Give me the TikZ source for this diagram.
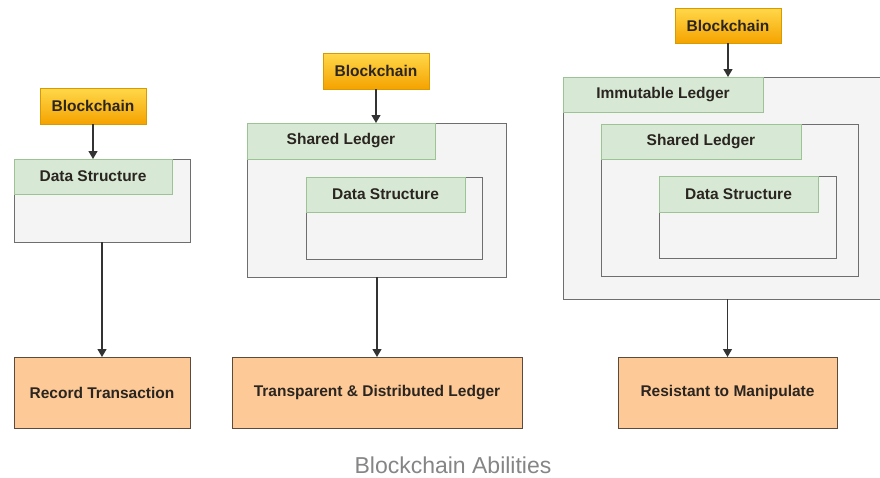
\documentclass[tikz,border=0pt]{standalone}
\usepackage{fontspec}
\setmainfont{Liberation Sans}
\usetikzlibrary{arrows.meta}
\definecolor{chainedge}{HTML}{D79B00}
\definecolor{chaintop}{HTML}{FFD84A}
\definecolor{chainbot}{HTML}{F5A300}
\definecolor{contedge}{HTML}{6E6E6E}
\definecolor{contfill}{HTML}{F4F4F4}
\definecolor{headedge}{HTML}{9CC394}
\definecolor{headfill}{HTML}{D7E9D4}
\definecolor{resedge}{HTML}{5C4A3A}
\definecolor{resfill}{HTML}{FDC996}
\definecolor{inkdark}{HTML}{2A2520}
\definecolor{capgray}{HTML}{858585}
\begin{document}
\begin{tikzpicture}[x=1pt,y=-1pt,
  every node/.style={inner sep=0pt, outer sep=0pt, anchor=north west, text=inkdark,
    font=\fontsize{15.5}{18}\selectfont\bfseries},
  chain/.style={draw=chainedge, line width=0.8pt, top color=chaintop, bottom color=chainbot},
  cont/.style={draw=contedge, fill=contfill, line width=1pt},
  head/.style={draw=headedge, fill=headfill, line width=0.8pt},
  result/.style={draw=resedge, fill=resfill, line width=1pt},
  link/.style={draw=black!80, line width=1.2pt, -{Triangle[length=8pt,width=9pt]}},
  caption/.style={anchor=center, text=capgray, font=\fontsize{23}{27}\selectfont}
]
\useasboundingbox[fill=white] (0,0) rectangle (880,477);

% Column 1: data structure
\node[chain, minimum width=106, minimum height=36] (bc1) at (40,88) {Blockchain};
\node[cont, minimum width=176, minimum height=83] (ds1) at (14,159) {};
\node[head, minimum width=158, minimum height=35] (ds1h) at (14,159) {Data Structure};
\node[result, minimum width=176, minimum height=71] (rt) at (14,357) {Record Transaction};
\draw[link] (bc1.south) -- (bc1.south |- ds1.north);
\draw[link] (ds1.south) -- (rt.north);

% Column 2: shared ledger
\node[chain, minimum width=106, minimum height=36] (bc2) at (323,53) {Blockchain};
\node[cont, minimum width=259, minimum height=154] (sl2) at (247,123) {};
\node[head, minimum width=188, minimum height=36] (sl2h) at (247,123) {Shared Ledger};
\node[cont, minimum width=176, minimum height=82] (ds2) at (306,177) {};
\node[head, minimum width=159, minimum height=35] (ds2h) at (306,177) {Data Structure};
\node[result, minimum width=290, minimum height=71] (tdl) at (232,357) {Transparent \& Distributed Ledger};
\draw[link] (bc2.south) -- (bc2.south |- sl2.north);
\draw[link] (sl2.south -| tdl.north) -- (tdl.north);

% Column 3: immutable ledger
\node[chain, minimum width=106, minimum height=35] (bc3) at (675,8) {Blockchain};
\node[cont, minimum width=325, minimum height=222] (il3) at (563,77) {};
\node[head, minimum width=200, minimum height=35] (il3h) at (563,77) {Immutable Ledger};
\node[cont, minimum width=257, minimum height=152] (sl3) at (601,124) {};
\node[head, minimum width=200, minimum height=35] (sl3h) at (601,124) {Shared Ledger};
\node[cont, minimum width=177, minimum height=82] (ds3) at (659,176) {};
\node[head, minimum width=159, minimum height=36] (ds3h) at (659,176) {Data Structure};
\node[result, minimum width=219, minimum height=71] (rm) at (618,357) {Resistant to Manipulate};
\draw[link] (bc3.south) -- (bc3.south |- il3.north);
\draw[link] (il3.south -| rm.north) -- (rm.north);

\node[caption] (cap) at (453,465) {Blockchain Abilities};
\end{tikzpicture}
\end{document}
